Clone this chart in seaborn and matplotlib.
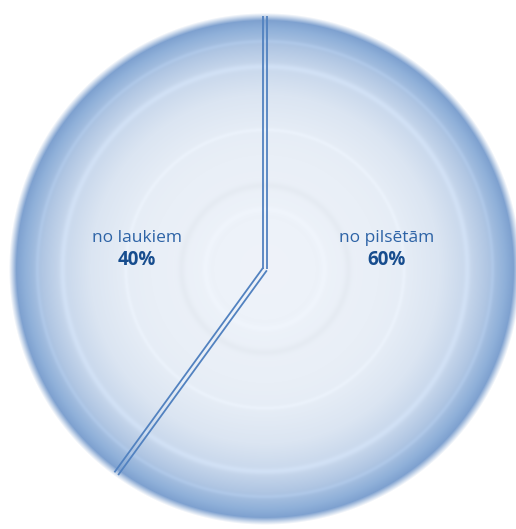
import numpy as np
import matplotlib
matplotlib.use("Agg")
import matplotlib.pyplot as plt
import matplotlib.transforms as mtransforms
import seaborn as sns

# Share of respondents by origin
categories = ["no laukiem", "no pilsētām"]
shares = [40, 60]
share_labels = ["40%", "60%"]

sns.set_theme(style="white")
plt.rcParams["font.family"] = ["Open Sans", "DejaVu Sans"]

W, H = 516, 529
fig = plt.figure(figsize=(W / 100, H / 100), dpi=100)
ax = fig.add_axes([0, 0, 1, 1])
ax.set_axis_off()

cx, cy, R = 265, 260, 253

# Radial gradient disc behind the pie
yy, xx = np.mgrid[0:H, 0:W] + 0.5
d = np.hypot(xx - cx, yy - cy) / R
stops = np.array([0.0, 0.2, 0.45, 0.55, 0.69, 0.81, 0.88, 0.95, 0.985, 1.0])
cols = np.array([
    (239, 243, 250),
    (237, 242, 249),
    (233, 239, 247),
    (230, 237, 246),
    (219, 229, 242),
    (198, 214, 235),
    (176, 198, 227),
    (143, 176, 217),
    (125, 160, 207),
    (130, 164, 209),
]) / 255.0
rgb = np.stack([np.interp(d, stops, cols[:, i]) for i in range(3)], axis=-1)
# faint concentric rings
for r0, w, a in [(0.235, 0.012, 0.012), (0.33, 0.015, -0.02), (0.55, 0.008, 0.018),
                 (0.8, 0.012, 0.035), (0.9, 0.008, 0.03)]:
    rgb += a * np.exp(-((d - r0) / w) ** 2)[..., None]
alpha = np.clip((1.012 - d) / 0.03, 0, 1)
img = np.dstack([np.clip(rgb, 0, 1), alpha])
ax.imshow(img, extent=(0, W, 0, H), origin="lower", interpolation="bilinear", zorder=0)

line_color = sns.color_palette(["#5282c0"])[0]

wedges, _ = ax.pie(shares, startangle=90, counterclock=True, radius=R,
                   center=(cx, cy), wedgeprops=dict(fill=False, linewidth=0))

# Double divider lines along each wedge boundary
for wdg in wedges:
    t = np.deg2rad(wdg.theta1)
    ex, ey = cx + R * np.cos(t), cy + R * np.sin(t)
    nx, ny = -np.sin(t), np.cos(t)
    for s in (-1, 1):
        off = mtransforms.ScaledTranslation(s * nx * 2.3 / 100, s * ny * 2.3 / 100, fig.dpi_scale_trans)
        ax.plot([cx, ex], [cy, ey], color=line_color, lw=1.3,
                transform=ax.transData + off, solid_capstyle="butt", zorder=3)

# Labels
label_pos = [(-128, 31), (122, 31)]
for (dx, dy), name, pct in zip(label_pos, categories, share_labels):
    ax.text(cx + dx, cy + dy, name, ha="center", va="center",
            fontsize=12.5, color="#2d63a6", zorder=4)
    ax.text(cx + dx, cy + dy - 22, pct, ha="center", va="center",
            fontsize=13.5, fontweight="bold", color="#174d8e", zorder=4)

ax.set_xlim(0, W)
ax.set_ylim(0, H)
ax.set_aspect("equal")
fig.savefig("out.png", dpi=100, facecolor="white")
